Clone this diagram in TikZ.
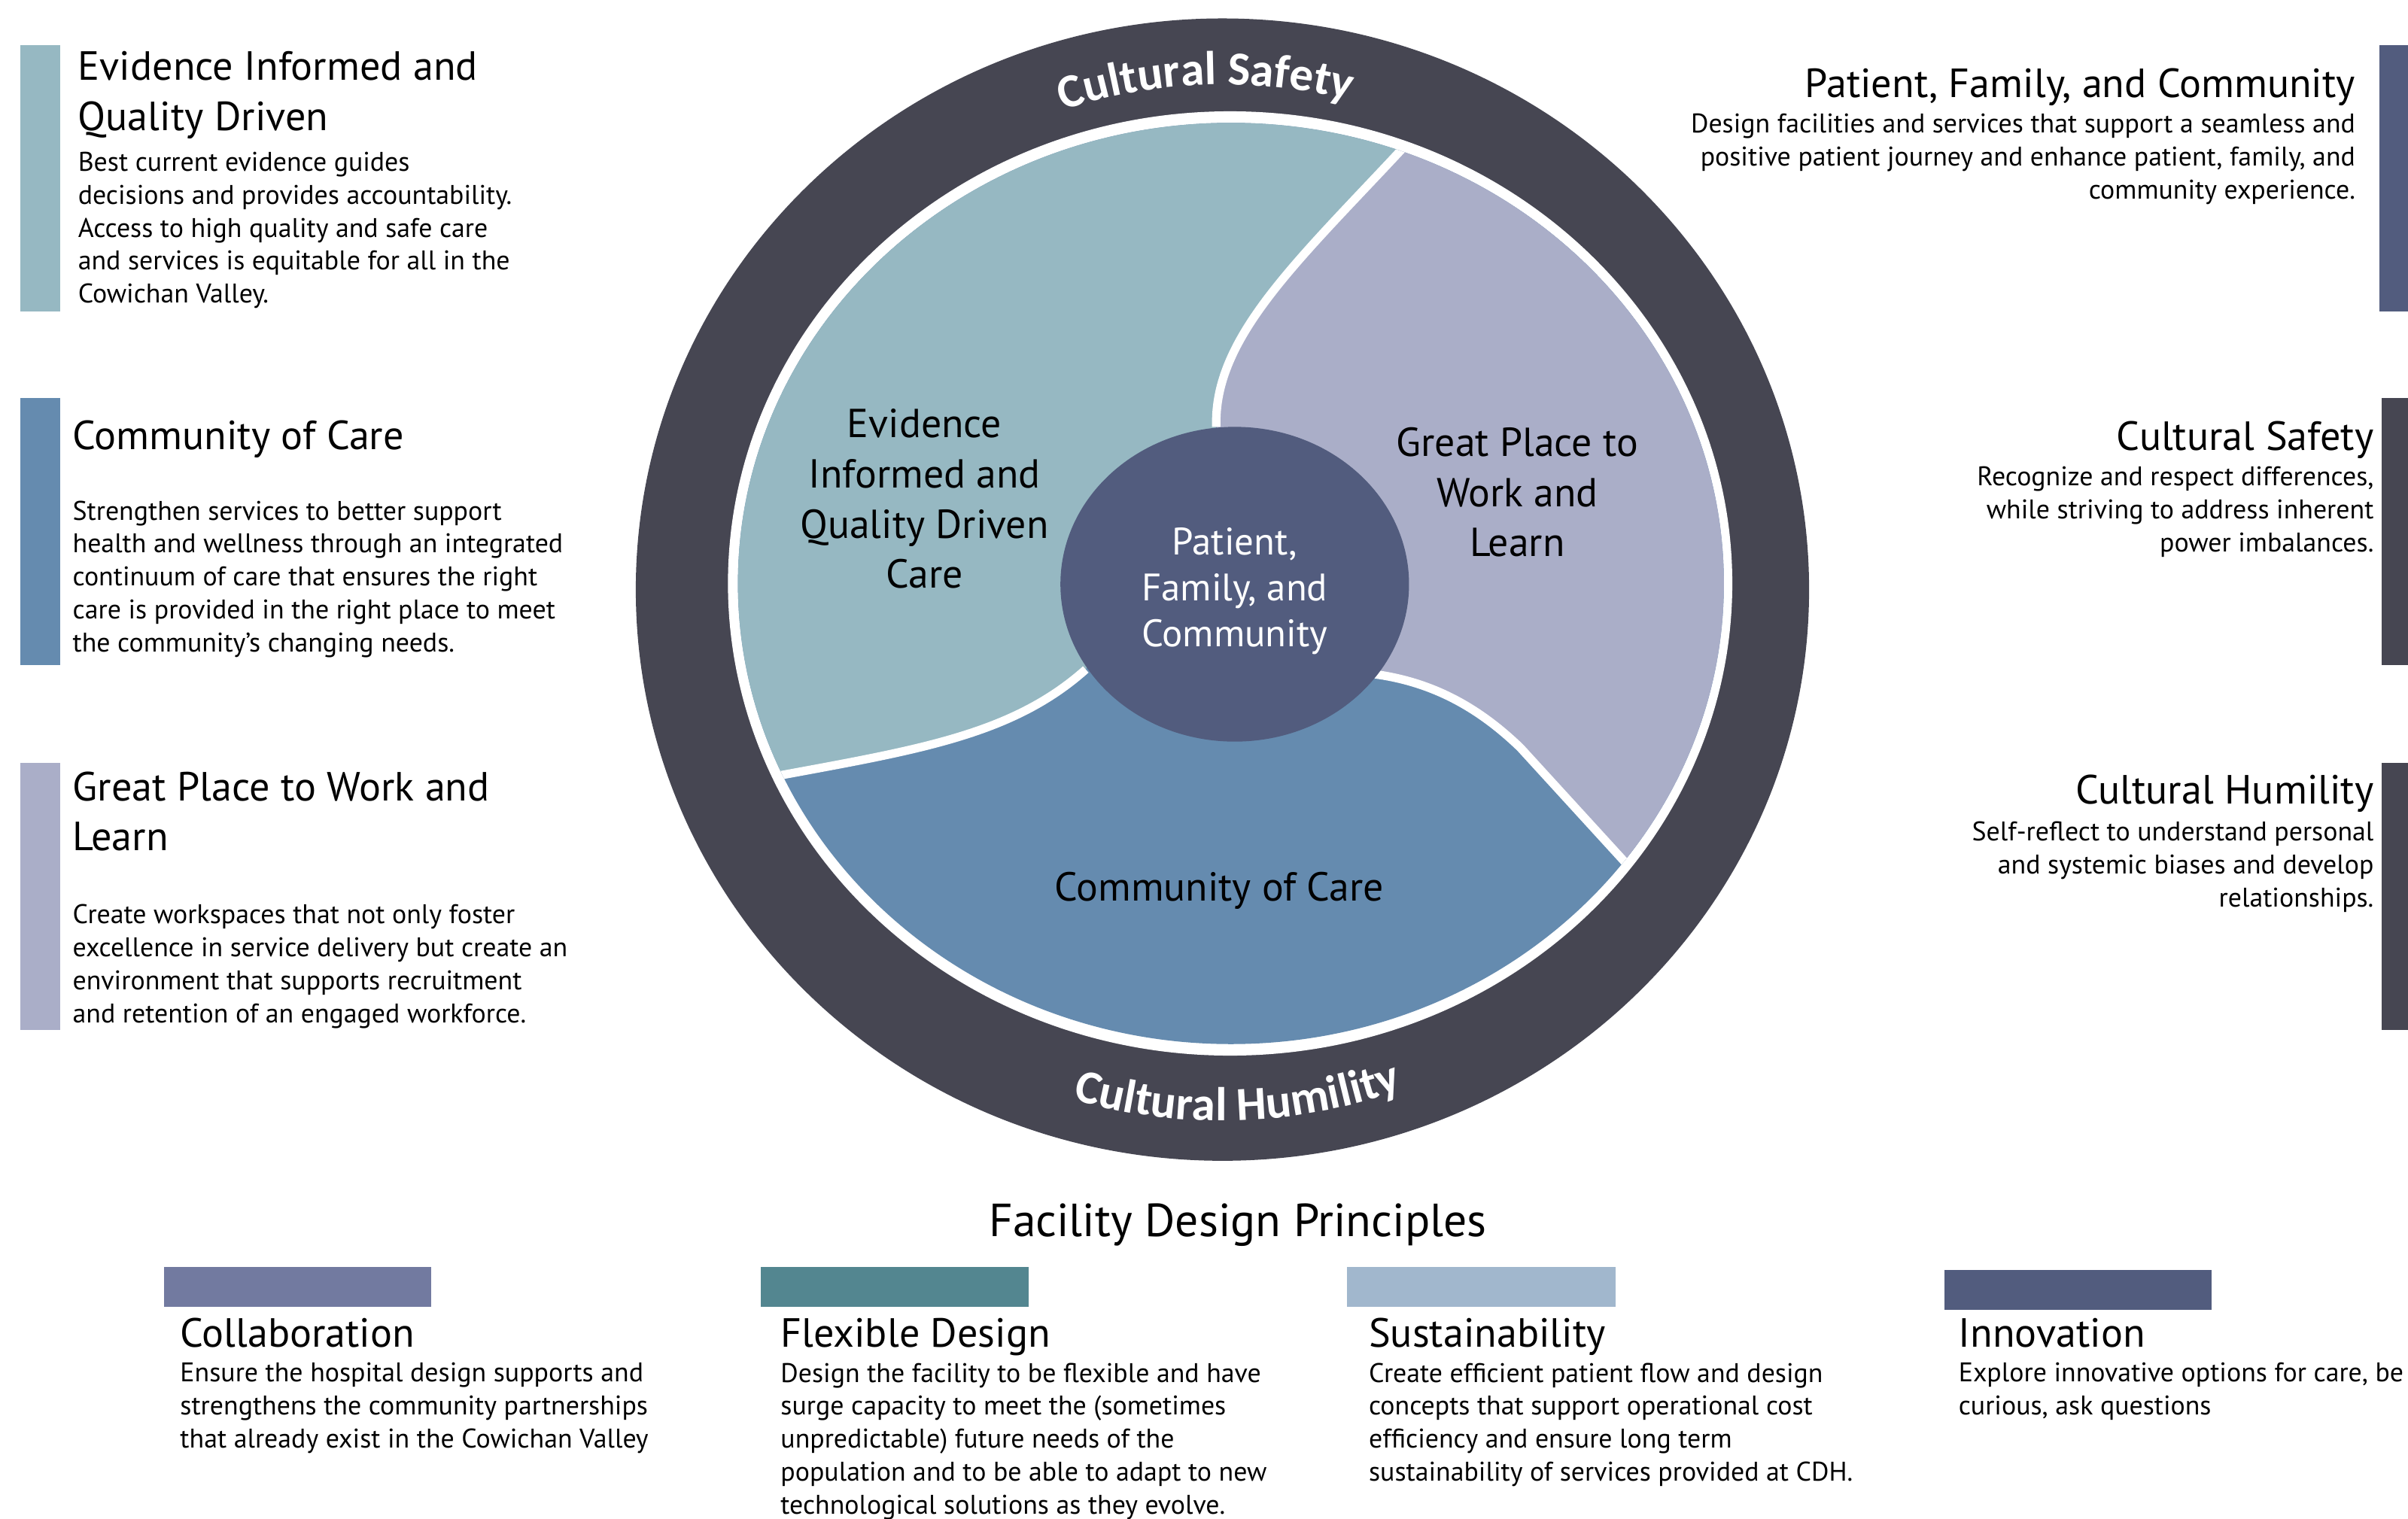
\documentclass[tikz,border=0pt]{standalone}
\usepackage{fontspec}
\setmainfont{PT Sans}
\newfontfamily\ringfam{Carlito}
\usetikzlibrary{decorations.text}
\definecolor{cRing}{RGB}{70,70,82}
\definecolor{cEvid}{RGB}{150,184,194}
\definecolor{cGreat}{RGB}{170,174,200}
\definecolor{cComm}{RGB}{101,139,175}
\definecolor{cPat}{RGB}{82,92,126}
\definecolor{cCollab}{RGB}{114,122,160}
\definecolor{cFlex}{RGB}{83,134,144}
\definecolor{cSust}{RGB}{161,183,205}
\newcommand\myHead{\fontsize{15.1}{18.5}\selectfont}
\newcommand\myBody{\fontsize{10}{12.2}\selectfont}
\newcommand\myCtr{\fontsize{15.0}{18.6}\selectfont}
\newcommand\myPat{\fontsize{14.2}{17}\selectfont}
\newcommand\myTitle{\fontsize{17.2}{21}\selectfont}
\newcommand\myRing{\ringfam\bfseries\fontsize{17.6}{19}\selectfont}
\tikzset{
  tl/.style={anchor=north west, inner sep=0pt, align=left, execute at begin node=\strut},
  tr/.style={anchor=north east, inner sep=0pt, align=right, execute at begin node=\strut},
  tc/.style={anchor=north, inner sep=0pt, align=center, execute at begin node=\strut},
  hd/.style={font=\myHead, yshift=12.1pt},
  bd/.style={font=\myBody, yshift=7.4pt},
  ct/.style={font=\myCtr, yshift=11.6pt},
  pt/.style={font=\myPat, yshift=9.3pt, text=white},
  ttl/.style={font=\myTitle, yshift=14.7pt},
  sep/.style={draw=white, line width=0.11cm},
  ringtext/.style={decorate, decoration={text along path, text align=center, text color=white, text={|\myRing|#1}}}
}
\begin{document}
\begin{tikzpicture}[x=0.02cm, y=-0.02cm]
\useasboundingbox (0,0) rectangle (1568,989.3);
% ---- wheel ----
\fill[cRing] (796,384) ellipse [x radius=382, y radius=372];
\fill[white] (801,380) ellipse [x radius=327, y radius=307.5];
\begin{scope}
  \clip (801.5,380) ellipse [x radius=321, y radius=300];
  \fill[cComm] (400,40) rectangle (1200,720);
  \fill[cEvid] (462,513.5) -- (508,505) .. controls (600,488) and (660,478) .. (707,436)
     -- (792,278) .. controls (790,220) and (845,170) .. (913,97) -- (933,75.5) -- (933,40)
     -- (440,40) -- (440,513.5) -- cycle;
  \fill[cGreat] (933,75.5) -- (913,97) .. controls (845,170) and (790,220) .. (792,278)
     -- (894.5,439) .. controls (932,444) and (962,460) .. (990,487) -- (1075,580)
     -- (1160,580) -- (1160,40) -- (933,40) -- cycle;
  \draw[sep] (462,513.5) -- (508,505) .. controls (600,488) and (660,478) .. (707,436);
  \draw[sep] (933,75.5) -- (913,97) .. controls (845,170) and (790,220) .. (792,278);
  \draw[sep] (894.5,439) .. controls (932,444) and (962,460) .. (990,487) -- (1075,580);
\end{scope}
\fill[cPat] (804,380.5) ellipse [x radius=113.5, y radius=102.5];
% ring labels
\path[ringtext={Cultural Safety}] (796,384) ++(-121.9:329) arc[start angle=-121.9, end angle=-61.9, radius=329];
\path[ringtext={Cultural Humility}] (796,384) ++(118.3:346) arc[start angle=118.3, end angle=58.3, radius=346];
% wheel labels
\node[tc,ct] (cEv) at (602,286.5) {Evidence\\Informed and\\Quality Driven\\Care};
\node[tc,ct] (cGr) at (988,298.5) {Great Place to\\Work and\\Learn};
\node[tc,ct] (cCo) at (794,584) {Community of Care};
\node[tc,pt] (cPa) at (804,359.5) {Patient,\\Family, and\\Community};
% ---- left column ----
\fill[cEvid] (13.3,29.3) rectangle (39.3,203);
\fill[cComm] (13.3,259.3) rectangle (39.3,433);
\fill[cGreat] (13.3,497) rectangle (39.3,671);
\node[tl,hd] (lh1) at (50.5,54.5) {Evidence Informed and\\Quality Driven};
\node[tl,bd] (lb1) at (50.5,111.75) {Best current evidence guides\\decisions and provides accountability.\\Access to high quality and safe care\\and services is equitable for all in the\\Cowichan Valley.};
\node[tl,hd] (lh2) at (47,291) {Community of Care};
\node[tl,bd] (lb2) at (47,338.75) {Strengthen services to better support\\health and wellness through an integrated\\continuum of care that ensures the right\\care is provided in the right place to meet\\the community’s changing needs.};
\node[tl,hd] (lh3) at (47,523.5) {Great Place to Work and\\Learn};
\node[tl,bd] (lb3) at (47,601.75) {Create workspaces that not only foster\\excellence in service delivery but create an\\environment that supports recruitment\\and retention of an engaged workforce.};
% ---- right column ----
\fill[cPat] (1549.5,29.3) rectangle (1570,203);
\fill[cRing] (1551,259.3) rectangle (1570,433);
\fill[cRing] (1551,497) rectangle (1570,671);
\node[tr,hd] (rh1) at (1534,61.5) {Patient, Family, and Community};
\node[tr,bd] (rb1) at (1534,86.75) {Design facilities and services that support a seamless and\\positive patient journey and enhance patient, family, and\\community experience.};
\node[tr,hd] (rh2) at (1546,291.5) {Cultural Safety};
\node[tr,bd] (rb2) at (1546,316.75) {Recognize and respect differences,\\while striving to address inherent\\power imbalances.};
\node[tr,hd] (rh3) at (1546,521.5) {Cultural Humility};
\node[tr,bd] (rb3) at (1546,547.75) {Self-reflect to understand personal\\and systemic biases and develop\\relationships.};
% ---- bottom ----
\node[tc,ttl] (ttl) at (806,805) {Facility Design Principles};
\fill[cCollab] (107,825) rectangle (281,851);
\fill[cFlex] (495.4,825) rectangle (670,851);
\fill[cSust] (877,825) rectangle (1052,851);
\fill[cPat] (1266,827) rectangle (1440,853);
\node[tl,hd] (bh1) at (117,875.5) {Collaboration};
\node[tl,bd] (bb1) at (117,900.3) {Ensure the hospital design supports and\\strengthens the community partnerships\\that already exist in the Cowichan Valley};
\node[tl,hd] (bh2) at (508,875.5) {Flexible Design};
\node[tl,bd] (bb2) at (508,900.3) {Design the facility to be flexible and have\\surge capacity to meet the (sometimes\\unpredictable) future needs of the\\population and to be able to adapt to new\\technological solutions as they evolve.};
\node[tl,hd] (bh3) at (891,875.5) {Sustainability};
\node[tl,bd] (bb3) at (891,900.3) {Create efficient patient flow and design\\concepts that support operational cost\\efficiency and ensure long term\\sustainability of services provided at CDH.};
\node[tl,hd] (bh4) at (1275,875.5) {Innovation};
\node[tl,bd] (bb4) at (1275,900.3) {Explore innovative options for care, be\\curious, ask questions};
\end{tikzpicture}
\end{document}
